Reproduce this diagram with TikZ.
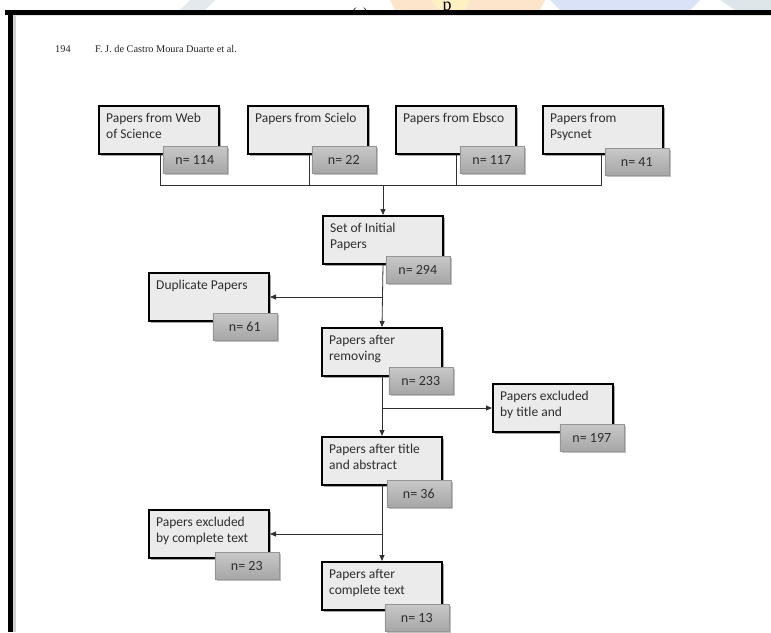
\documentclass[tikz,border=0pt]{standalone}
\usepackage{fontspec}
\setmainfont{Liberation Serif}
\newfontfamily\boxfont{Carlito}
\usetikzlibrary{arrows.meta,shadows,calc}
\definecolor{boxfill}{HTML}{EBEBEB}
\definecolor{ntop}{HTML}{C8C8C8}
\definecolor{nbot}{HTML}{A6A6A6}
\definecolor{nborder}{HTML}{959595}
\definecolor{txt}{HTML}{2E2E2E}
\definecolor{connc}{HTML}{303030}
\definecolor{wmA}{HTML}{E4E9EE}
\definecolor{wmB}{HTML}{FDE5CC}
\definecolor{wmC}{HTML}{FFF1C2}
\definecolor{wmD}{HTML}{D9E2F6}
\definecolor{wmE}{HTML}{DFE6EA}
\begin{document}
\begin{tikzpicture}[x=1pt,y=-1pt,
  mainbox/.style={draw=black, line width=2pt, fill=boxfill, minimum width=120pt,
    minimum height=48pt, anchor=north west, inner sep=0pt,
    drop shadow={shadow xshift=2pt, shadow yshift=-2pt, fill=black, opacity=0.35}},
  nbox/.style={draw=nborder, line width=0.4pt, top color=ntop, bottom color=nbot,
    minimum width=64pt, minimum height=27pt, anchor=north east, inner sep=0pt,
    font=\boxfont\fontsize{14}{16}\selectfont, text=txt,
    drop shadow={shadow xshift=2pt, shadow yshift=-2pt, fill=black, opacity=0.25}},
  lbl/.style={anchor=north west, inner sep=0pt, align=left,
    font=\boxfont\fontsize{13.5}{16}\selectfont, text=txt},
  conn/.style={draw=connc, line width=0.8pt},
  arr/.style={conn, -{Triangle[length=6pt,width=5pt]}},
  hdr/.style={anchor=base west, inner sep=0pt, font=\fontsize{10.3}{12}\selectfont, text=black!85}
]
\useasboundingbox (0,0) rectangle (771,632);
\fill[white] (0,0) rectangle (771,632);
% watermark strip at top
\begin{scope}
\clip (0,0) rectangle (771,10);
\fill[wmA] (190,0) -- (215,0) -- (205,10) -- (180,10) -- cycle;
\fill[wmB] (390,0) -- (545,0) -- (540,10) -- (395,10) -- cycle;
\fill[wmC] (430,0) -- (470,0) -- (465,10) -- (440,10) -- cycle;
\fill[wmD] (550,0) -- (700,0) -- (690,10) -- (560,10) -- cycle;
\fill[wmE] (720,0) -- (771,0) -- (771,10) -- (735,10) -- cycle;
\node[anchor=base, inner sep=0pt, font=\fontsize{14}{14}\selectfont] (wm1) at (360,17) {(a)};
\node[anchor=base, inner sep=0pt, font=\fontsize{18}{18}\selectfont] (wm2) at (447,10) {p};
\end{scope}
% frame
\fill[black] (5,10) rectangle (771,14.5);
\fill[black] (8,10) rectangle (13,632);
\fill[black!18] (13,14.5) rectangle (16,632);
\fill[black!10] (16,14.5) rectangle (771,16);
% header
\node[hdr] (pg) at (55,52) {194};
\node[hdr] (au) at (95,52) {F. J. de Castro Moura Duarte et al.};
% boxes
\node[mainbox] (b1) at (98,105) {};
\node[mainbox] (b2) at (247,105) {};
\node[mainbox] (b3) at (395,105) {};
\node[mainbox] (b4) at (542,105) {};
\node[mainbox] (b5) at (322,215) {};
\node[mainbox] (dup) at (148,272) {};
\node[mainbox] (b6) at (321,327) {};
\node[mainbox] (ex1) at (492,383) {};
\node[mainbox] (b7) at (321,436) {};
\node[mainbox] (ex2) at (148,509) {};
\node[mainbox] (b8) at (321,561) {};
% labels
\node[lbl] (t1) at ($(b1.north west)+(8,8)$) {Papers from Web\\of Science};
\node[lbl] (t2) at ($(b2.north west)+(8,8)$) {Papers from Scielo};
\node[lbl] (t3) at ($(b3.north west)+(8,8)$) {Papers from Ebsco};
\node[lbl] (t4) at ($(b4.north west)+(8,8)$) {Papers from\\Psycnet};
\node[lbl] (t5) at ($(b5.north west)+(8,8)$) {Set of Initial\\Papers};
\node[lbl] (tdup) at ($(dup.north west)+(8,8)$) {Duplicate Papers};
\node[lbl] (t6) at ($(b6.north west)+(8,8)$) {Papers after\\removing};
\node[lbl] (tex1) at ($(ex1.north west)+(8,8)$) {Papers excluded\\by title and};
\node[lbl] (t7) at ($(b7.north west)+(8,8)$) {Papers after title\\and abstract};
\node[lbl] (tex2) at ($(ex2.north west)+(8,8)$) {Papers excluded\\by complete text};
\node[lbl] (t8) at ($(b8.north west)+(8,8)$) {Papers after\\complete text};
% count boxes
\node[nbox] (n1) at ($(b1.south east)+(7,-9)$) {n= 114};
\node[nbox] (n2) at ($(b2.south east)+(7,-9)$) {n= 22};
\node[nbox] (n3) at ($(b3.south east)+(7,-9)$) {n= 117};
\node[nbox] (n4) at ($(b4.south east)+(5,-7)$) {n= 41};
\node[nbox] (n5) at ($(b5.south east)+(6,-9)$) {n= 294};
\node[nbox] (ndup) at ($(dup.south east)+(7,-9)$) {n= 61};
\node[nbox] (n6) at ($(b6.south east)+(10,-10)$) {n= 233};
\node[nbox] (nex1) at ($(ex1.south east)+(10,-9)$) {n= 197};
\node[nbox] (n7) at ($(b7.south east)+(8,-6)$) {n= 36};
\node[nbox] (nex2) at ($(ex2.south east)+(9,-7)$) {n= 23};
\node[nbox] (n8) at ($(b8.south east)+(6,-7)$) {n= 13};
% connectors
\coordinate (m) at ($(b5.north)+(0,-30)$);
\draw[conn] ([xshift=-2pt]n1.west |- b1.south) -- ([xshift=-2pt]n1.west |- m)
  -- ([xshift=-3pt]n4.west |- m) -- ([xshift=-3pt]n4.west |- b4.south);
\draw[conn] ([xshift=-2pt]n2.west |- b2.south) -- ([xshift=-2pt]n2.west |- m);
\draw[conn] ([xshift=-3pt]n3.west |- b3.south) -- ([xshift=-3pt]n3.west |- m);
\draw[arr] (m) -- (b5.north);
\draw[arr] (b5.south) -- (b6.north);
\draw[arr] (b5.south |- dup.east) -- (dup.east);
\draw[arr] (b6.south) -- (b7.north);
\draw[arr] (b6.south |- ex1.west) -- (ex1.west);
\draw[arr] (b7.south) -- (b8.north);
\draw[arr] (b7.south |- ex2.east) -- (ex2.east);
\end{tikzpicture}
\end{document}
